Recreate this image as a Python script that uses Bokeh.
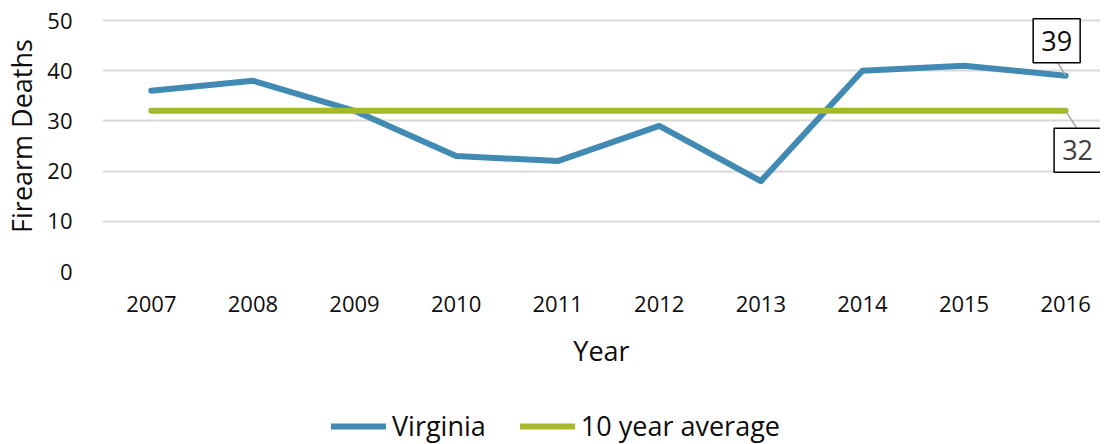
from bokeh.plotting import figure
from bokeh.layouts import column
from bokeh.models import Range1d, FixedTicker, Legend, LegendItem
from bokeh.core.properties import value
from bokeh.embed import file_html
from bokeh.resources import INLINE

years = [2007, 2008, 2009, 2010, 2011, 2012, 2013, 2014, 2015, 2016]
virginia = [36, 38, 32, 23, 22, 29, 18, 40, 41, 39]
average = [32, 32, 32, 32, 32, 32, 32, 32, 32, 32]
tick_labels = ["2007", "2008", "2009", "2010", "2011", "2012", "2013", "2014", "2015", "2016"]

BLUE = "#418ab3"
GREEN = "#a5b92a"
FONT = "Open Sans"
TXT = "#0d0d0d"

PX_PER_YEAR = 102.0
PX_PER_UNIT = 251.0 / 50.0

p = figure(width=1100, height=376, output_backend="svg", toolbar_location=None,
           x_range=Range1d(2007 - 49 / PX_PER_YEAR, 2007 - 49 / PX_PER_YEAR + 1002 / PX_PER_YEAR),
           y_range=Range1d(0, 50 + 20 / PX_PER_UNIT),
           min_border_left=91, min_border_right=0, min_border_top=0, min_border_bottom=105)
p.outline_line_color = None
p.background_fill_color = "white"
p.border_fill_color = "white"

p.xgrid.grid_line_color = None
p.ygrid.grid_line_color = "#d9d9d9"
p.ygrid.grid_line_width = 2

p.yaxis.ticker = FixedTicker(ticks=[0, 10, 20, 30, 40, 50])
p.xaxis.ticker = FixedTicker(ticks=years)
p.xaxis.major_label_overrides = {y: t for y, t in zip(years, tick_labels)}

for ax in (p.xaxis[0], p.yaxis[0]):
    ax.axis_line_color = None
    ax.major_tick_line_color = None
    ax.minor_tick_line_color = None
    ax.major_label_text_font = FONT
    ax.major_label_text_font_size = "22px"
    ax.major_label_text_color = TXT
    ax.axis_label_text_font = FONT
    ax.axis_label_text_font_size = "27px"
    ax.axis_label_text_font_style = "normal"
    ax.axis_label_text_color = TXT

p.xaxis.axis_label = "Year"
p.yaxis.axis_label = "Firearm Deaths"
p.xaxis.major_label_standoff = 18
p.xaxis.axis_label_standoff = 17
p.yaxis.major_label_standoff = 24
p.yaxis.axis_label_standoff = 4

p.line(years, virginia, line_color=BLUE, line_width=6, line_cap="round", line_join="round")
p.line(years, average, line_color=GREEN, line_width=6, line_cap="round", line_join="round")

# data labels for the last points: leader line, boxed value
lx, ly = years[-1], virginia[-1]
ax_, ay_ = years[-1], average[-1]
p.segment(x0=[lx, ax_], y0=[ly, ay_],
          x1=[lx - 8 / PX_PER_YEAR, ax_ + 11 / PX_PER_YEAR],
          y1=[ly + 13 / PX_PER_UNIT, ay_ - 17 / PX_PER_UNIT],
          line_color="#a6a6a6", line_width=1.5)

box_x = [lx - 9 / PX_PER_YEAR, ax_ + 12 / PX_PER_YEAR]
box_y = [ly + 35 / PX_PER_UNIT, ay_ - 39.5 / PX_PER_UNIT]
p.rect(x=box_x, y=box_y, width=47, height=44, width_units="screen", height_units="screen",
       fill_color="white", line_color="#000000", line_width=1.5)
p.text(x=box_x, y=box_y, text=[str(virginia[-1]), str(average[-1])],
       text_align="center", text_baseline="middle",
       text_font=value(FONT), text_font_size="27px", text_color=[TXT, "#404040"])

# legend strip (series drawn outside its visible range, only the legend shows)
p2 = figure(width=1100, height=68, output_backend="svg", toolbar_location=None,
            x_range=Range1d(0, 1), y_range=Range1d(0, 1),
            x_axis_type=None, y_axis_type=None,
            min_border_left=0, min_border_right=0, min_border_top=0, min_border_bottom=0)
p2.outline_line_color = None
p2.xgrid.visible = False
p2.ygrid.visible = False
l_va = p2.line(years, virginia, line_color=BLUE, line_width=6, line_cap="round")
l_av = p2.line(years, average, line_color=GREEN, line_width=6, line_cap="round")

legend = Legend(items=[LegendItem(label="Virginia", renderers=[l_va]),
                       LegendItem(label="10 year average", renderers=[l_av])],
                orientation="horizontal", location=(229, 0),
                glyph_width=55, glyph_height=20, label_standoff=6, spacing=34,
                label_text_font=FONT, label_text_font_size="27px", label_text_color=TXT,
                label_text_line_height=1.0,
                border_line_color=None, background_fill_alpha=0, margin=0, padding=0)
p2.add_layout(legend, "center")

open("out.html", "w").write(file_html(column(p, p2), INLINE))
